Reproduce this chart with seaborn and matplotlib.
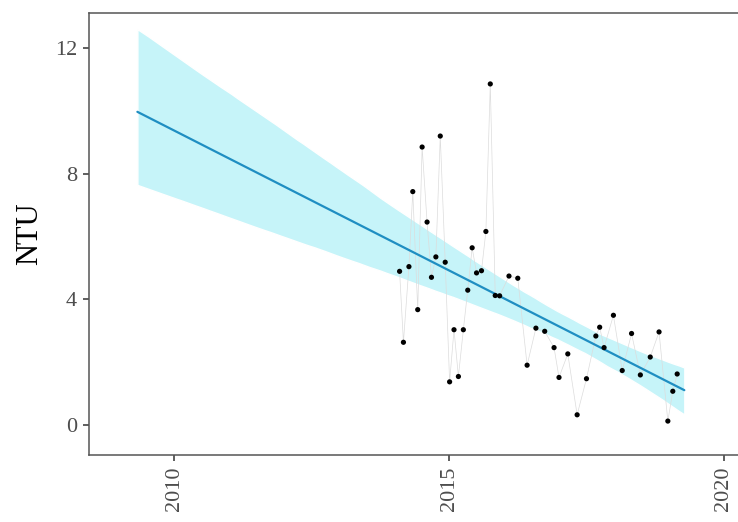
import numpy as np
import pandas as pd
import seaborn as sns
import matplotlib.pyplot as plt

# Sampling dates (decimal years) and turbidity readings
year = [2014.10, 2014.17, 2014.27, 2014.34, 2014.43, 2014.51, 2014.60, 2014.68,
        2014.76, 2014.84, 2014.93, 2015.01, 2015.09, 2015.17, 2015.26, 2015.34,
        2015.42, 2015.50, 2015.59, 2015.67, 2015.75, 2015.84, 2015.92, 2016.09,
        2016.25, 2016.42, 2016.58, 2016.74, 2016.91, 2017.00, 2017.16, 2017.33,
        2017.50, 2017.67, 2017.74, 2017.82, 2017.99, 2018.15, 2018.32, 2018.48,
        2018.66, 2018.82, 2018.98, 2019.07, 2019.15]
ntu = [4.89, 2.63, 5.04, 7.43, 3.67, 8.85, 6.46, 4.70,
       5.35, 9.20, 5.18, 1.37, 3.03, 1.54, 3.03, 4.29,
       5.64, 4.84, 4.91, 6.16, 10.86, 4.12, 4.11, 4.74,
       4.67, 1.90, 3.08, 2.98, 2.46, 1.51, 2.26, 0.32,
       1.47, 2.83, 3.11, 2.46, 3.49, 1.73, 2.91, 1.59,
       2.16, 2.96, 0.12, 1.07, 1.62]

# range the fitted trend is drawn over
fit_range = (2009.33, 2019.28)

df = pd.DataFrame({"year": year, "NTU": ntu})

sns.set_style("white")
plt.rcParams["font.family"] = ["Liberation Serif", "DejaVu Serif"]

fig = plt.figure(figsize=(7.38, 5.22), dpi=100)
ax = fig.add_axes([0.1206, 0.1284, 0.905, 0.8467])

# regplot with truncate=False extends the fit across the current x limits
ax.set_xlim(*fit_range)
sns.regplot(data=df, x="year", y="NTU", scatter=False, truncate=False, ci=95,
            n_boot=2000, seed=1, ax=ax, color="#1f8ec2",
            line_kws={"linewidth": 1.6})
band = ax.collections[-1]
band.set_facecolor("#c6f4f9")
band.set_alpha(1.0)

# thin grey line joining the observations, then the points
sns.lineplot(data=df, x="year", y="NTU", ax=ax, color="#dcdcdc",
             linewidth=0.5, zorder=1)
sns.scatterplot(data=df, x="year", y="NTU", ax=ax, color="black", s=14,
                edgecolor="none", zorder=3)

ax.set_xlim(2008.45, 2020.6)
ax.set_ylim(-0.96, 13.12)
ax.set_xticks([2010, 2015, 2020])
ax.set_yticks([0, 4, 8, 12])
ax.set_xlabel("")
ax.set_ylabel("NTU", fontsize=22, color="black", labelpad=8)

ax.tick_params(axis="both", which="major", length=4.5, width=1.1, pad=4,
               color="#333333", labelsize=16, labelcolor="#4d4d4d",
               bottom=True, left=True)
ax.tick_params(axis="x", labelrotation=90)
for spine in ax.spines.values():
    spine.set_color("#555555")
    spine.set_linewidth(1.1)

fig.savefig("out.png", dpi=100)
